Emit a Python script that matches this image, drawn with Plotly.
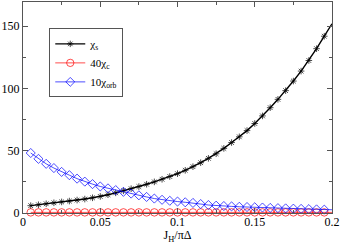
import plotly.graph_objects as go

x_vals = [0.005, 0.010, 0.015, 0.020, 0.025, 0.030, 0.035, 0.040, 0.045, 0.050,
          0.055, 0.060, 0.065, 0.070, 0.075, 0.080, 0.085, 0.090, 0.095, 0.100,
          0.105, 0.110, 0.115, 0.120, 0.125, 0.130, 0.135, 0.140, 0.145, 0.150,
          0.155, 0.160, 0.165, 0.170, 0.175, 0.180, 0.185, 0.190, 0.195, 0.200]

chi_s = [5.9, 6.6, 7.4, 8.2, 8.9, 9.6, 10.4, 11.2, 12.2, 13.3,
         14.7, 16.2, 17.8, 19.5, 21.2, 23.1, 25.0, 27.1, 29.3, 31.6,
         34.3, 37.2, 40.4, 43.9, 47.6, 51.9, 56.6, 61.2, 66.2, 71.9,
         78.0, 84.6, 91.3, 98.3, 106.0, 114.0, 122.5, 132.0, 142.0, 152.0]

chi_c40 = [0.5, 0.5, 0.5, 0.5, 0.5, 0.5, 0.5, 0.5, 0.5, 0.5,
           0.5, 0.5, 0.5, 0.5, 0.5, 0.5, 0.5, 0.5, 0.5, 0.5,
           0.5, 0.5, 0.5, 0.5, 0.5, 0.5, 0.5, 0.5, 0.5, 0.5,
           0.5, 0.5, 0.5, 0.5, 0.5, 0.5, 0.5, 0.5, 0.5, 0.5]

chi_orb10 = [48.2, 43.5, 39.5, 36.1, 33.0, 30.4, 27.6, 25.2, 23.2, 21.3,
             19.8, 18.4, 17.0, 15.6, 14.2, 12.9, 11.6, 10.6, 9.8, 9.2,
             8.6, 8.1, 7.2, 6.4, 5.9, 5.6, 5.3, 5.0, 4.8, 4.6,
             4.4, 4.1, 3.9, 3.7, 3.5, 3.3, 3.1, 2.9, 2.7, 2.6]

names = ["χ<sub>s</sub>", "40χ<sub>c</sub>", "10χ<sub>orb</sub>"]

FONT = "Liberation Serif"
n = len(x_vals)


def sizes(s):
    return [s] * (n - 1) + [0]


fig = go.Figure()
fig.add_trace(go.Scatter(
    x=x_vals, y=chi_s, name=names[0], mode="lines+markers",
    line=dict(color="black", width=1.4),
    marker=dict(symbol="asterisk-open", size=sizes(5.5), color="black",
                line=dict(width=1, color="#333333")),
    cliponaxis=False))
fig.add_trace(go.Scatter(
    x=x_vals, y=chi_c40, name=names[1], mode="lines+markers",
    line=dict(color="red", width=0.7),
    marker=dict(symbol="circle-open", size=sizes(7.5), color="red",
                line=dict(width=1, color="red")),
    cliponaxis=False))
fig.add_trace(go.Scatter(
    x=x_vals, y=chi_orb10, name=names[2], mode="lines+markers",
    line=dict(color="blue", width=0.7),
    marker=dict(symbol="diamond-open", size=sizes(7), color="blue",
                line=dict(width=1, color="blue")),
    cliponaxis=False))

axis_common = dict(
    showline=True, linecolor="#555555", linewidth=1, mirror="allticks",
    ticks="inside", ticklen=5, tickcolor="#555555", tickwidth=1,
    showgrid=False, zeroline=False, automargin=False,
    tickfont=dict(family=FONT, size=12, color="black"),
)

fig.update_xaxes(range=[0, 0.2], tickvals=[0, 0.05, 0.1, 0.15, 0.2],
                 ticktext=["0", "0.05", "0.1", "0.15", "0.2"],
                 ticklabelstandoff=-2,
                 minor=dict(ticks="inside", ticklen=3, tickcolor="#555555", dtick=0.025),
                 title=dict(text="J<sub>H</sub>/πΔ", font=dict(family=FONT, size=12, color="black"),
                            standoff=0),
                 **axis_common)
fig.update_yaxes(range=[0, 169.5], tickvals=[0, 50, 100, 150],
                 minor=dict(ticks="inside", ticklen=3, tickcolor="#555555", dtick=25),
                 **axis_common)

fig.update_layout(
    width=341, height=244,
    margin=dict(l=23, r=9, t=2, b=31),
    plot_bgcolor="white", paper_bgcolor="white",
    font=dict(family=FONT, size=12, color="black"),
    showlegend=True,
    legend=dict(x=0.085, y=0.875, xanchor="left", yanchor="top",
                bgcolor="white", bordercolor="#555555", borderwidth=1,
                font=dict(family=FONT, size=11, color="black"),
                itemwidth=30, tracegroupgap=0,
                itemclick=False),
)

fig.write_html("out.html", config={"displayModeBar": False, "staticPlot": True},
               post_script="document.body.style.margin='0';document.body.style.overflow='hidden';")
